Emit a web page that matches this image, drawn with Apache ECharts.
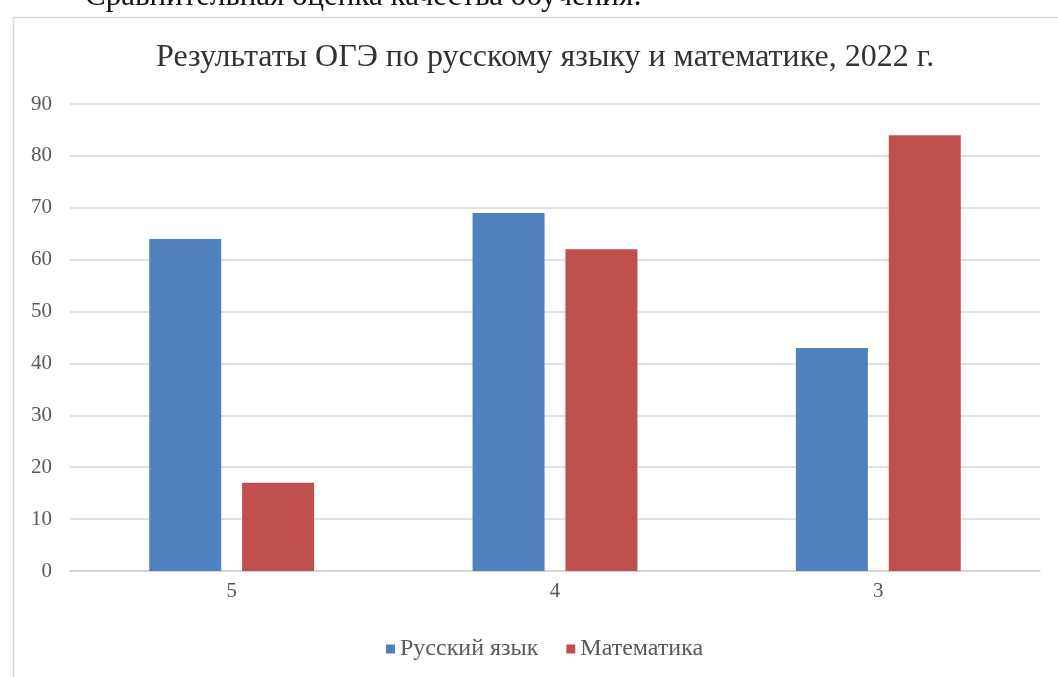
<!DOCTYPE html>
<html><head><meta charset="utf-8">
<script src="https://cdn.jsdelivr.net/npm/echarts@6/dist/echarts.min.js"></script>
<style>html,body{margin:0;padding:0;background:#fff}#c{width:1058px;height:677px}</style>
</head><body><div id="c"></div>
<script>
const categories = ['5', '4', '3'];
const russian = [64, 69, 43];
const math = [17, 62, 84];
const seriesNames = ['Русский язык', 'Математика'];
const titleText = 'Результаты ОГЭ по русскому языку и математике, 2022 г.';
const captionText = 'Сравнительная оценка качества обучения:';

const serif = '"Liberation Serif", "DejaVu Serif", serif';
const chart = echarts.init(document.getElementById('c'), null, {renderer: 'canvas'});
chart.setOption({
  animation: false,
  backgroundColor: '#fff',
  graphic: [
    {type: 'rect', left: 11, top: 15, shape: {width: 1100, height: 700},
     style: {fill: 'none', stroke: '#d9d9d9', lineWidth: 1.5}, z: -1},
    {type: 'text', left: 85, top: -19,
     style: {text: captionText, font: '31px ' + serif, fill: '#111'}}
  ],
  title: {
    text: titleText, left: 151, top: 37,
    textStyle: {fontFamily: serif, fontWeight: 'normal', fontSize: 32, color: '#333'}
  },
  legend: {
    bottom: 11, left: 381, itemWidth: 9, itemHeight: 9, itemGap: 28,
    icon: 'rect',
    textStyle: {fontFamily: serif, fontSize: 24, color: '#595959'},
    data: seriesNames
  },
  grid: {left: 70, right: 18, top: 104, bottom: 106},
  xAxis: {
    type: 'category', data: categories,
    axisLine: {lineStyle: {color: '#d0d0d0', width: 1.5}},
    axisTick: {show: false},
    axisLabel: {fontFamily: serif, fontSize: 21, color: '#595959', margin: 10}
  },
  yAxis: {
    type: 'value', min: 0, max: 90, interval: 10,
    axisLine: {show: false}, axisTick: {show: false},
    splitLine: {lineStyle: {color: '#d9d9d9', width: 1.5}},
    axisLabel: {fontFamily: serif, fontSize: 21, color: '#595959', margin: 18}
  },
  series: [
    {name: seriesNames[0], type: 'bar', data: russian, barWidth: 72, barGap: '29%',
     itemStyle: {color: '#4f81bd'}},
    {name: seriesNames[1], type: 'bar', data: math, barWidth: 72,
     itemStyle: {color: '#c0504d'}}
  ]
});
</script></body></html>
